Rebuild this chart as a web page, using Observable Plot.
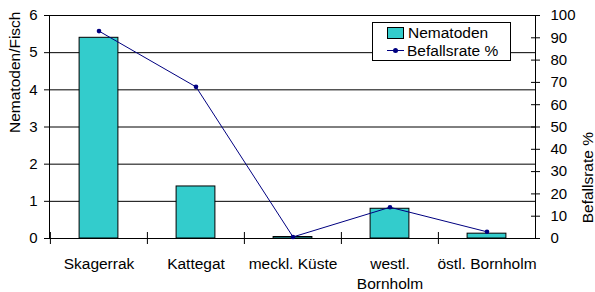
<!DOCTYPE html>
<html>
<head>
<meta charset="utf-8">
<script src="https://cdn.jsdelivr.net/npm/d3@7"></script>
<script src="https://cdn.jsdelivr.net/npm/@observablehq/plot@0.6"></script>
<style>
  html, body { margin: 0; padding: 0; background: #fff; }
  #wrap { position: relative; width: 595px; height: 292px; overflow: hidden; font-family: "Liberation Sans", Arial, sans-serif; }
  #wrap svg { position: absolute; left: 0; top: 0; }
  #legend { position: absolute; left: 372px; top: 22px; width: 137px; height: 37px; background: #fff; border: 1px solid #000; font-size: 15.5px; color: #000; }
  #legend .row { position: absolute; left: 14px; height: 18px; display: flex; align-items: center; white-space: nowrap; }
  #legend .sw { width: 15px; height: 10px; background: #33CCCC; border: 1px solid #000; margin-right: 4px; }
  #legend .ln { position: relative; width: 17px; height: 2px; margin-right: 3px; }
  #legend .ln::before { content: ""; position: absolute; left: 0; right: 0; top: 0; height: 1px; background: #000080; }
  #legend .ln::after { content: ""; position: absolute; left: 6px; top: -2px; width: 5px; height: 5px; border-radius: 50%; background: #000080; }
</style>
</head>
<body>
<div id="wrap"></div>
<script>
const categories = ["Skagerrak", "Kattegat", "meckl. Küste", "westl. Bornholm", "östl. Bornholm"];
const categoryLabels = ["Skagerrak", "Kattegat", "meckl. Küste", "westl.\nBornholm", "östl. Bornholm"];
const nematoden = [5.4, 1.4, 0.04, 0.8, 0.13];
const befallsrate = [93, 68, 0.7, 14, 3];
const leftTicks = [0, 1, 2, 3, 4, 5, 6];
const rightTicks = [0, 10, 20, 30, 40, 50, 60, 70, 80, 90, 100];
const leftTitle = "Nematoden/Fisch";
const rightTitle = "Befallsrate %";
const legendLabels = ["Nematoden", "Befallsrate %"];

const W = 595, H = 292;
const margins = {marginLeft: 49, marginRight: 60, marginTop: 15, marginBottom: 54};
const step = (W - margins.marginLeft - margins.marginRight) / categories.length;
const barInset = (step - 39) / 2;
const font = "15px 'Liberation Sans', Arial, sans-serif";

const barData = categories.map((c, i) => ({cat: c, value: nematoden[i]}));
const lineData = categories.map((c, i) => ({cat: c, value: befallsrate[i]}));
const labelMap = new Map(categories.map((c, i) => [c, categoryLabels[i]]));

const xScale = {type: "band", domain: categories, padding: 0, axis: null};

const base = Plot.plot({
  width: W, height: H, ...margins,
  style: {font, background: "transparent", color: "#000"},
  x: xScale,
  y: {domain: [0, 6], axis: null},
  marks: [
    Plot.gridY(leftTicks.filter(d => d > 0), {stroke: "#000", strokeOpacity: 1, strokeWidth: 1}),
    Plot.barY(barData, {x: "cat", y: "value", fill: "#33CCCC", stroke: "#000", strokeWidth: 1, insetLeft: barInset, insetRight: barInset}),
    Plot.ruleY([0], {stroke: "#000"}),
    Plot.frame({stroke: "#000", fill: "none"}),
    Plot.axisY(leftTicks, {anchor: "left", tickSize: 5, tickPadding: 7, label: null, stroke: "#000", fill: "#000", fontSize: 15}),
    Plot.text([leftTitle], {frameAnchor: "left", rotate: -90, dx: -34, dy: 6, fontSize: 15.5, fill: "#000"})
  ]
});

const overlay = Plot.plot({
  width: W, height: H, ...margins,
  style: {font, background: "transparent", color: "#000"},
  x: xScale,
  y: {domain: [0, 100], axis: null},
  marks: [
    Plot.axisX(categories, {anchor: "bottom", tickSize: 6, text: null, dx: -step / 2, stroke: "#000", label: null}),
    Plot.axisX(categories, {anchor: "bottom", tickSize: -6, text: null, dx: -step / 2, stroke: "#000", label: null}),
    Plot.axisX(categories, {anchor: "bottom", tickSize: 0, tickPadding: 16, tickFormat: d => labelMap.get(d), lineHeight: 1.3, fontSize: 15.5, fill: "#000", label: null}),
    Plot.lineY(lineData, {x: "cat", y: "value", stroke: "#000080", strokeWidth: 1}),
    Plot.dot(lineData, {x: "cat", y: "value", r: 2.3, fill: "#000080", stroke: "none"}),
    Plot.axisY(rightTicks, {anchor: "right", tickSize: 4, tickPadding: 11, label: null, stroke: "#000", fill: "#000", fontSize: 15}),
    Plot.axisY(rightTicks, {anchor: "right", tickSize: -5, text: null, label: null, stroke: "#000"}),
    Plot.text([rightTitle], {frameAnchor: "right", rotate: -90, dx: 53, dy: 5, fontSize: 15.5, fill: "#000"})
  ]
});

const wrap = document.getElementById("wrap");
wrap.appendChild(base);
wrap.appendChild(overlay);

const legend = document.createElement("div");
legend.id = "legend";
legend.innerHTML =
  `<div class="row" style="top:1px"><span class="sw"></span><span>${legendLabels[0]}</span></div>` +
  `<div class="row" style="top:19px"><span class="ln"></span><span>${legendLabels[1]}</span></div>`;
wrap.appendChild(legend);
</script>
</body>
</html>
